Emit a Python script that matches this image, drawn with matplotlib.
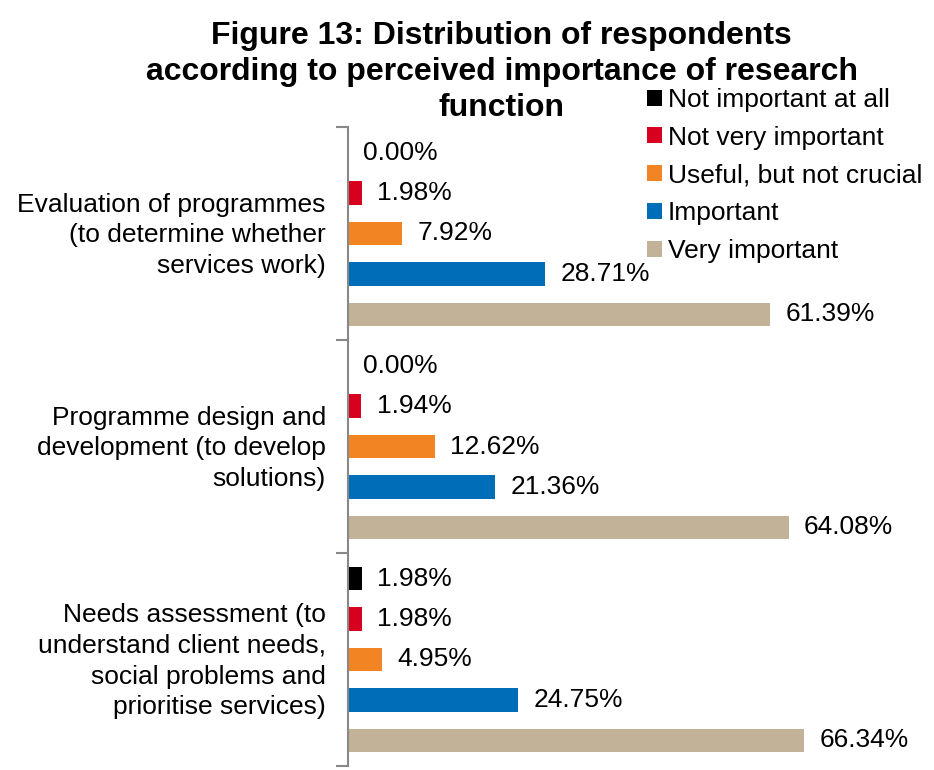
import numpy as np
import matplotlib
matplotlib.use("Agg")
import matplotlib.pyplot as plt
from matplotlib.transforms import ScaledTranslation

plt.rcParams['font.family'] = ['Liberation Sans', 'DejaVu Sans']

# Survey responses (% of respondents) per research function
categories = [
    "Evaluation of programmes\n(to determine whether\nservices work)",
    "Programme design and\ndevelopment (to develop\nsolutions)",
    "Needs assessment (to\nunderstand client needs,\nsocial problems and\nprioritise services)",
]
series_names = ["Not important at all", "Not very important",
                "Useful, but not crucial", "Important", "Very important"]
not_important = [0.00, 0.00, 1.98]
not_very = [1.98, 1.94, 1.98]
useful = [7.92, 12.62, 4.95]
important = [28.71, 21.36, 24.75]
very_important = [61.39, 64.08, 66.34]

title_lines = ["Figure 13: Distribution of respondents",
               "according to perceived importance of research",
               "function"]

colors = ["#000000", "#D7001E", "#F38423", "#006DB8", "#C1B298"]
values = [not_important, not_very, useful, important, very_important]

fig = plt.figure(figsize=(9.34, 7.70), dpi=100)
ax = fig.add_axes([348 / 934, 4 / 770, 550 / 934, 639 / 770])

y = np.arange(len(categories))
slot = 0.19
bar_h = 0.11
for j, (name, vals, c) in enumerate(zip(series_names, values, colors)):
    pos = y + (j - 2) * slot
    ax.barh(pos, vals, height=bar_h, color=c, label=name)
    for p, v in zip(pos, vals):
        ax.annotate(f"{v:.2f}%", xy=(v, p), xytext=(11, 0),
                    textcoords="offset points", va="center", ha="left",
                    fontsize=19)

ax.set_xlim(0, 80)
ax.set_ylim(2.5, -0.5)
ax.set_xticks([])
for s in ["top", "right", "bottom"]:
    ax.spines[s].set_visible(False)
ax.spines["left"].set_color("#888888")
ax.spines["left"].set_linewidth(1.5)

# boundary ticks between groups, labels at the group centres
ax.set_yticks(np.arange(-0.5, len(categories), 1.0))
ax.set_yticklabels([])
ax.tick_params(axis="y", which="major", length=9, width=1.5, color="#888888")
ax.set_yticks(y, minor=True)
ax.set_yticklabels(categories, minor=True, fontsize=19, ha="right",
                   linespacing=1.35)
ax.tick_params(axis="y", which="minor", length=0, pad=16)
lift = ScaledTranslation(0, 4 / 100, fig.dpi_scale_trans)
for lbl in ax.get_yticklabels(minor=True):
    lbl.set_transform(lbl.get_transform() + lift)

# title, one line at a time
for k, line in enumerate(title_lines):
    fig.text(0.537, 1 - (36 + 36 * k) / 770, line, ha="center", va="center",
             fontsize=23, fontweight="bold")

fig.legend(loc="upper left", bbox_to_anchor=(647 / 934, 1 - 88 / 770),
           frameon=False, fontsize=19, handlelength=0.55, handleheight=0.55,
           handletextpad=0.25, labelspacing=0.52, borderaxespad=0,
           borderpad=0)

fig.savefig("out.png", dpi=100)
